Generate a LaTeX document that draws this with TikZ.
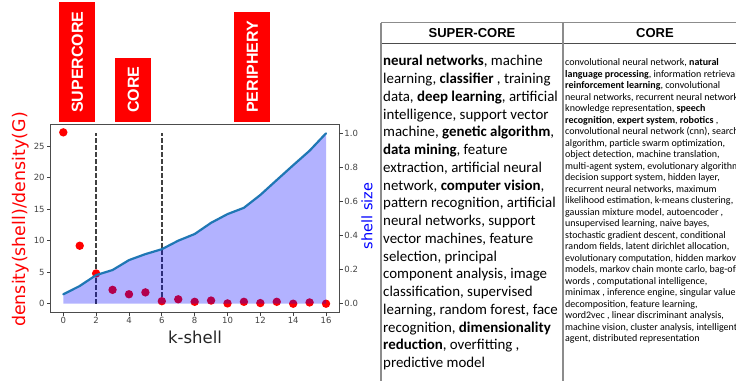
\documentclass[tikz,border=0pt]{standalone}
\usepackage{fontspec}
\setmainfont{Carlito}
\newfontfamily\dvs{DejaVu Sans}
\newfontfamily\lib{Liberation Sans}
\definecolor{linec}{HTML}{1F77B4}
\definecolor{ticklab}{HTML}{444444}
\begin{document}
\begin{tikzpicture}[x=1pt,y=-1pt,
  tag/.style={fill=red, text=white, font=\lib\bfseries\fontsize{16}{16}\selectfont, rotate=90, anchor=west,
     inner xsep=9pt, inner ysep=0pt, minimum height=36pt, text height=11.5pt, text depth=0pt},
  ticklabel/.style={font=\dvs\fontsize{8.5}{9}\selectfont, text=ticklab, inner sep=1.5pt},
  axlabel/.style={inner sep=0pt},
  tick/.style={black!75, line width=0.8pt},
  frame/.style={black!70, line width=1pt},
  vline/.style={black!75, line width=1.4pt, dash pattern=on 4.5pt off 2.5pt},
  dot/.style={red},
  tabline/.style={black!45, line width=1.2pt},
  tabhead/.style={font=\lib\bfseries\fontsize{13}{13}\selectfont, inner sep=0pt},
  bigtext/.style={font=\fontsize{14.9}{17.75}\selectfont, align=left, inner sep=0pt, anchor=base west},
  smalltext/.style={font=\fontsize{10}{11.5}\selectfont, align=left, inner sep=0pt, anchor=base west}
]
\useasboundingbox (0,0) rectangle (736,381);
\fill[white] (0,0) rectangle (736,381);

% category tags
\node[tag] (tsuper) at (77,122) {SUPERCORE};
\node[tag] (tcore) at (133,122) {CORE};
\node[tag] (tperi) at (252,122) {PERIPHERY};

% dashed separators
\coordinate (d2a) at ({63.3+16.42*2},303.7);
\coordinate (d2b) at ({63.3+16.42*2},133.3);
\coordinate (d6a) at ({63.3+16.42*6},303.7);
\coordinate (d6b) at ({63.3+16.42*6},133.3);
\draw[vline] (d2a) -- (d2b);
\draw[vline] (d6a) -- (d6b);

% density dots
\foreach \k/\v in {0/27.2,1/9.2,2/4.8,3/2.2,4/1.5,5/1.8,6/0.4,7/0.7,8/0.3,9/0.5,10/0.05,11/0.3,12/0.1,13/0.3,14/0.0,15/0.2,16/0.0}
  \fill[dot] ({63.3+16.42*\k},{303.7-6.3*\v}) circle[radius=4.2];

% shell size area and line
\fill[blue, opacity=0.3] (63.3,303.7) -- plot coordinates {(63.3,294.3) (79.7,286.0) (96.1,275.1) (112.6,270.0) (129.0,260.1) (145.4,254.1) (161.8,249.2) (178.2,240.7) (194.7,234.0) (211.1,222.8) (227.5,214.1) (243.9,207.8) (260.3,195.0) (276.8,180.0) (293.2,165.2) (309.6,150.7) (326.0,133.3)} -- (326.0,303.7) -- cycle;
\draw[linec, line width=2.2pt, line join=round, line cap=round] plot coordinates {(63.3,294.3) (79.7,286.0) (96.1,275.1) (112.6,270.0) (129.0,260.1) (145.4,254.1) (161.8,249.2) (178.2,240.7) (194.7,234.0) (211.1,222.8) (227.5,214.1) (243.9,207.8) (260.3,195.0) (276.8,180.0) (293.2,165.2) (309.6,150.7) (326.0,133.3)};

% frame
\draw[frame] (50,124) rectangle (339,312);

% ticks
\foreach \k in {0,2,...,16}
  \draw[tick] ({63.3+16.42*\k},312) -- ++(0,3.5) node[ticklabel, anchor=north] (xt\k) {\k};
\foreach \v in {0,5,...,25}
  \draw[tick] (50,{303.7-6.3*\v}) -- ++(-3.5,0) node[ticklabel, anchor=east] (yt\v) {\v};
\foreach \v/\l [count=\i] in {0/0.0,0.2/0.2,0.4/0.4,0.6/0.6,0.8/0.8,1.0/1.0}
  \draw[tick] (339,{303.7-170.4*\v}) -- ++(3.5,0) node[ticklabel, anchor=west] (rt\i) {\l};

% axis labels
\node[axlabel, font=\dvs\fontsize{17.4}{17.4}\selectfont, text=red, rotate=90] (ylab) at (20.5,219.5) {density(shell)/density(G)};
\node[axlabel, font=\dvs\fontsize{14.5}{14.5}\selectfont, text=blue, rotate=90] (y2lab) at (367,216) {shell size};
\node[axlabel, font=\dvs\fontsize{16.5}{16.5}\selectfont, text=black!85] (xlab) at (195,337) {k-shell};

% table
\draw[tabline] (381,22.7) -- (736,22.7);
\draw[black!70, line width=1.2pt] (381,43.3) -- (736,43.3);
\draw[tabline] (381,22.7) -- (381,381);
\draw[tabline] (563,22.7) -- (563,381);
\node[tabhead] (hsuper) at (472,33) {SUPER-CORE};
\node[tabhead] (hcore) at (655,33) {CORE};

\node[bigtext] (supertext) at (383,367.7) {%
\textbf{neural networks}, machine\\
learning, \textbf{classifier} , training\\
data, \textbf{deep learning}, artificial\\
intelligence, support vector\\
machine, \textbf{genetic algorithm},\\
\textbf{data mining}, feature\\
extraction, artificial neural\\
network, \textbf{computer vision},\\
pattern recognition, artificial\\
neural networks, support\\
vector machines, feature\\
selection, principal\\
component analysis, image\\
classification, supervised\\
learning, random forest, face\\
recognition, \textbf{dimensionality}\\
\textbf{reduction}, overfitting ,\\
predictive model};

\begin{scope}
\clip (564,44) rectangle (736,381);
\node[smalltext] (coretext) at (565,341.7) {%
convolutional neural network, \textbf{natural}\\
\textbf{language processing}, information retrieval,\\
\textbf{reinforcement learning}, convolutional\\
neural networks, recurrent neural networks,\\
knowledge representation, \textbf{speech}\\
\textbf{recognition}, \textbf{expert system}, \textbf{robotics} ,\\
convolutional neural network (cnn), search\\
algorithm, particle swarm optimization,\\
object detection, machine translation,\\
multi-agent system, evolutionary algorithms,\\
decision support system, hidden layer,\\
recurrent neural networks, maximum\\
likelihood estimation, k-means clustering,\\
gaussian mixture model, autoencoder ,\\
unsupervised learning, naive bayes,\\
stochastic gradient descent, conditional\\
random fields, latent dirichlet allocation,\\
evolutionary computation, hidden markov\\
models, markov chain monte carlo, bag-of-\\
words , computational intelligence,\\
minimax , inference engine, singular value\\
decomposition, feature learning,\\
word2vec , linear discriminant analysis,\\
machine vision, cluster analysis, intelligent\\
agent, distributed representation};
\end{scope}
\end{tikzpicture}
\end{document}
